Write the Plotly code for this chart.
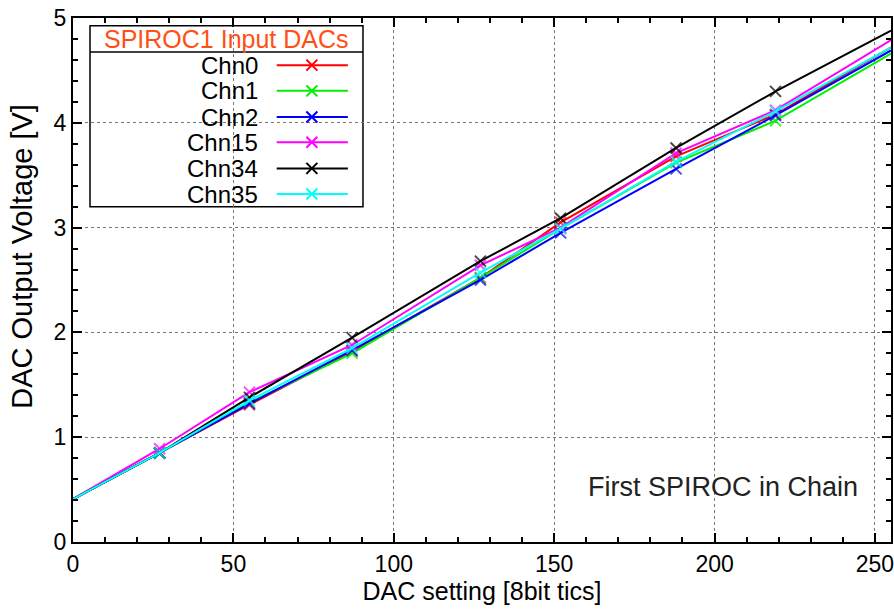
import plotly.graph_objects as go

# ---------------- data ----------------
dac_setting = [0, 27, 55, 87, 127, 152, 188, 219, 255]

chn0 = [0.41, 0.85, 1.31, 1.82, 2.52, 3.05, 3.68, 4.08, 4.72]
chn1 = [0.41, 0.85, 1.33, 1.80, 2.52, 2.99, 3.62, 4.02, 4.66]
chn2 = [0.41, 0.85, 1.32, 1.83, 2.50, 2.95, 3.56, 4.07, 4.69]
chn15 = [0.41, 0.89, 1.43, 1.88, 2.64, 3.00, 3.71, 4.12, 4.79]
chn34 = [0.41, 0.85, 1.38, 1.95, 2.68, 3.09, 3.76, 4.30, 4.88]
chn35 = [0.41, 0.85, 1.35, 1.85, 2.57, 2.99, 3.63, 4.11, 4.72]

series_names = ["Chn0", "Chn1", "Chn2", "Chn15", "Chn34", "Chn35"]
series_values = [chn0, chn1, chn2, chn15, chn34, chn35]
series_colors = ["#ff0000", "#00f000", "#0000ff", "#ff00ff", "#000000", "#00ffff"]

x_tick_vals = [0, 50, 100, 150, 200, 250]
y_tick_vals = [0, 1, 2, 3, 4, 5]

FONT = "Liberation Sans, Arial, Helvetica, sans-serif"

# markers are not shown at the two end points (start at origin, end at the frame)
marker_sizes = [0] + [11] * (len(dac_setting) - 2) + [0]

fig = go.Figure()

for name, vals, col in zip(series_names, series_values, series_colors):
    fig.add_trace(go.Scatter(
        x=dac_setting, y=vals, name=name, mode="lines+markers",
        line=dict(color=col, width=2),
        marker=dict(symbol="x-thin", size=marker_sizes, line=dict(color=col, width=2)),
        showlegend=False, cliponaxis=True,
    ))

# ---------------- custom legend (gnuplot style: text left, sample right) ----------------
leg_x0, leg_x1 = 0.0208, 0.3545
leg_top, leg_sep, leg_bot = 0.985, 0.935, 0.640
row_y = [0.910, 0.861, 0.811, 0.763, 0.713, 0.664]
text_right = 0.229
sample_x0, sample_x1, sample_mid = 0.249, 0.336, 0.292

shapes = [
    dict(type="rect", xref="paper", yref="paper", x0=leg_x0, x1=leg_x1,
         y0=leg_bot, y1=leg_top, line=dict(color="black", width=1.5),
         fillcolor="white", layer="between"),
    dict(type="line", xref="paper", yref="paper", x0=leg_x0, x1=leg_x1,
         y0=leg_sep, y1=leg_sep, line=dict(color="black", width=1.5), layer="between"),
]
annotations = [
    dict(text="SPIROC1 Input DACs", xref="paper", yref="paper",
         x=(leg_x0 + leg_x1) / 2, y=(leg_top + leg_sep) / 2, showarrow=False,
         xanchor="center", yanchor="middle",
         font=dict(family=FONT, size=25, color="#ff5014")),
    dict(text="First SPIROC in Chain", xref="paper", yref="paper",
         x=0.962, y=0.105, showarrow=False, xanchor="right", yanchor="middle",
         font=dict(family=FONT, size=27, color="#222222")),
    dict(text="DAC Output Voltage [V]", xref="paper", yref="paper",
         x=-0.0625, y=0.546, showarrow=False, textangle=-90,
         xanchor="center", yanchor="middle",
         font=dict(family=FONT, size=29, color="black")),
]
for name, col, ry in zip(series_names, series_colors, row_y):
    annotations.append(dict(text=name, xref="paper", yref="paper", x=text_right, y=ry,
                            showarrow=False, xanchor="right", yanchor="middle",
                            font=dict(family=FONT, size=24, color="black")))
    shapes.append(dict(type="line", xref="paper", yref="paper", x0=sample_x0, x1=sample_x1,
                       y0=ry, y1=ry, line=dict(color=col, width=2), layer="between"))

# legend markers on an overlay axis matching paper coordinates
fig.add_trace(go.Scatter(
    x=[sample_mid] * len(row_y), y=row_y, mode="markers", xaxis="x2", yaxis="y2",
    marker=dict(symbol="x-thin", size=11, line=dict(color=series_colors, width=2)),
    showlegend=False, hoverinfo="skip",
))

axis_common = dict(
    showline=True, linecolor="black", linewidth=2, mirror="ticks",
    ticks="inside", ticklen=9, tickwidth=2, tickcolor="black",
    showgrid=True, gridcolor="#777777", griddash="dot", gridwidth=1,
    zeroline=False, automargin=False, ticklabeloverflow="allow",
    tickfont=dict(family=FONT, size=23, color="black"),
)

fig.update_layout(
    width=894, height=615,
    margin=dict(l=73, r=3, t=18, b=73),
    paper_bgcolor="white", plot_bgcolor="white",
    showlegend=False,
    xaxis=dict(range=[0, 255], tickvals=x_tick_vals,
               minor=dict(dtick=10, ticks="inside", ticklen=5, tickwidth=1.5,
                          tickcolor="black", showgrid=False),
               title=dict(text="DAC setting [8bit tics]", standoff=4,
                          font=dict(family=FONT, size=25, color="black")),
               **axis_common),
    yaxis=dict(range=[0, 5], tickvals=y_tick_vals,
               minor=dict(dtick=0.2, ticks="inside", ticklen=5, tickwidth=1.5,
                          tickcolor="black", showgrid=False),
               **axis_common),
    xaxis2=dict(overlaying="x", range=[0, 1], visible=False, fixedrange=True),
    yaxis2=dict(overlaying="y", range=[0, 1], visible=False, fixedrange=True),
    shapes=shapes,
    annotations=annotations,
)

fig.write_html(
    "out.html",
    config={"displayModeBar": False},
    post_script="document.body.style.margin='0';document.body.style.overflow='hidden';",
)
